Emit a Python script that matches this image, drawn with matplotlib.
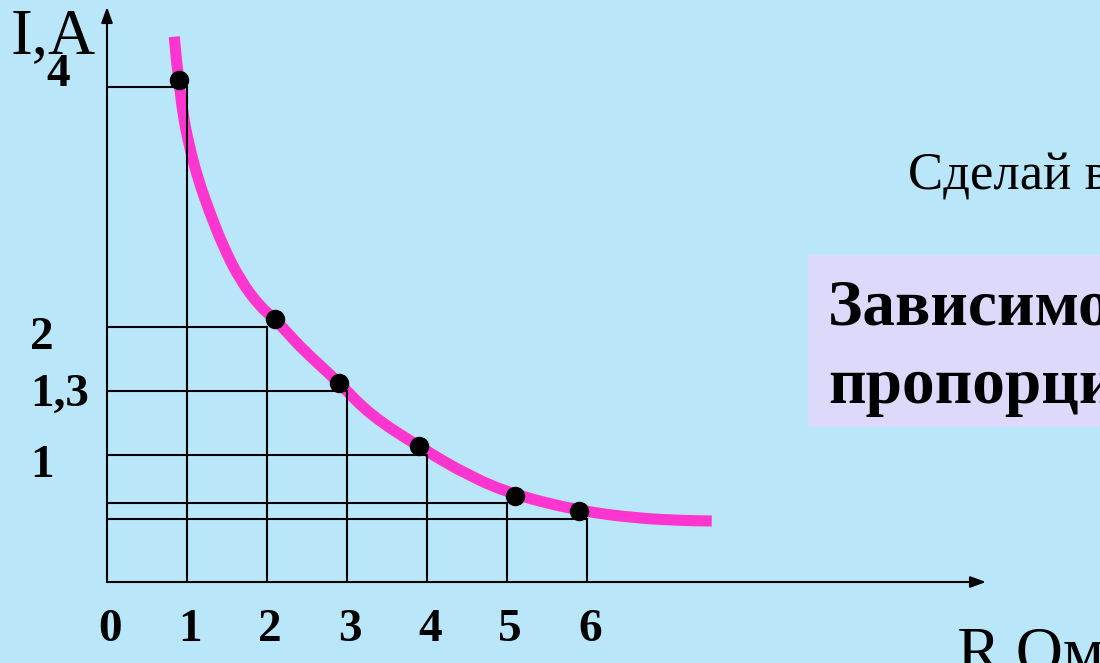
import numpy as np
import matplotlib
matplotlib.use("Agg")
import matplotlib.pyplot as plt
from matplotlib.patches import Rectangle, PathPatch
from matplotlib.path import Path

# resistance R (Ohm) and current I (A) for the step lines
R_vals = [1, 2, 3, 4, 5, 6]
I_vals = [4, 2, 1.3, 1, 0.8, 0.67]

# measured dots (slightly off the step corners in the picture)
dot_R = [0.9, 2.1, 2.9, 3.9, 5.1, 5.9]
dot_I = [4.06, 2.07, 1.39, 1.04, 0.83, 0.737]

# hand-drawn trend curve
curve_R = [0.841, 0.871, 0.9, 0.946, 1.029, 1.141, 1.288, 1.454, 1.663,
           1.913, 2.088, 2.263, 2.454, 2.9, 3.288, 3.9, 4.538, 5.1, 5.9,
           6.621, 7.246, 7.559]
curve_I = [4.419, 4.198, 4.058, 3.781, 3.503, 3.225, 2.948, 2.669, 2.392,
           2.169, 2.073, 1.93, 1.748, 1.391, 1.188, 1.039, 0.910, 0.833,
           0.737, 0.676, 0.652, 0.649]

x_ticks = [0, 1, 2, 3, 4, 5, 6]
y_tick_labels = ["4", "2", "1,3", "1"]

# the sketch is not to scale: piecewise axis mapping for I
scale_I = [0, 0.67, 0.8, 1, 1.3, 2, 4, 5]
scale_h = [0, 63, 79, 127, 191, 255, 495, 615]

W, H = 1100, 663
BG = "#b9e7f9"
SERIF = "Liberation Serif"


def forward(v):
    return np.interp(v, scale_I, scale_h)


def inverse(v):
    return np.interp(v, scale_h, scale_I)


def px(x, y):
    return x / W, 1 - y / H


def smooth_path(xs, ys):
    # quadratic bezier through midpoints, midpoints taken on the drawn scale
    pts = list(zip(xs, ys))
    mid = lambda a, b: ((a[0] + b[0]) / 2,
                        float(inverse((forward(a[1]) + forward(b[1])) / 2)))
    verts = [pts[0], mid(pts[0], pts[1])]
    codes = [Path.MOVETO, Path.LINETO]
    for k in range(1, len(pts) - 1):
        verts += [pts[k], mid(pts[k], pts[k + 1])]
        codes += [Path.CURVE3, Path.CURVE3]
    verts.append(pts[-1])
    codes.append(Path.LINETO)
    return Path(verts, codes)


fig = plt.figure(figsize=(11, 6.63), dpi=100, facecolor=BG)
ax = fig.add_axes([107 / W, 81 / H, (W - 107) / W, 582 / H])
ax.set_facecolor("none")
ax.set_yscale("function", functions=(forward, inverse))
ax.set_xlim(0, (W - 107) / 80)
ax.set_ylim(0, inverse(582))
ax.set_xticks([])
ax.set_yticks([])
for s in ax.spines.values():
    s.set_visible(False)

# trend curve
ax.add_patch(PathPatch(smooth_path(curve_R, curve_I), facecolor="none",
                       edgecolor="#ff35d0", lw=8, capstyle="butt",
                       joinstyle="round", zorder=2, clip_on=False))

# step lines from axes to each point
for r, i in zip(R_vals, I_vals):
    ax.plot([0, r], [i, i], color="black", lw=1.5, zorder=3)
    ax.plot([r, r], [0, i], color="black", lw=1.5, zorder=3)

ax.plot(dot_R, dot_I, "o", color="black", ms=13, zorder=4)

# axes with arrows
arrow = dict(arrowstyle="-|>,head_length=0.55,head_width=0.2", color="black",
             lw=1.5, mutation_scale=17, shrinkA=0, shrinkB=0)
ax.annotate("", xy=(0, 575 / 582), xytext=(0, 0), xycoords="axes fraction",
            arrowprops=arrow, annotation_clip=False)
ax.annotate("", xy=((986 - 107) / (W - 107), 0), xytext=(0, 0),
            xycoords="axes fraction", arrowprops=arrow, annotation_clip=False)

# tick labels
for r in x_ticks:
    ax.annotate(str(r), xy=(r, 0), xytext=(3, -59), textcoords="offset pixels",
                ha="center", va="baseline", fontsize=34, fontweight="bold",
                family=SERIF, annotation_clip=False)

y_offsets = [(-61, 1), (-77, -22), (-77, -15), (-77, -22)]
for lbl, lvl, (dx, dy) in zip(y_tick_labels, I_vals, y_offsets):
    ax.annotate(lbl, xy=(0, lvl), xytext=(dx, dy), textcoords="offset pixels",
                ha="left", va="baseline", fontsize=34, fontweight="bold",
                family=SERIF, annotation_clip=False)

# axis titles
fig.text(*px(11, 53), "I,A", fontsize=47, family=SERIF, va="baseline")
fig.text(*px(956, 671), "R,Ом", fontsize=47, family=SERIF, va="baseline")

# right-hand slide text
fig.text(*px(908, 190), "Сделай вывод:", fontsize=38, family=SERIF,
         va="baseline")
fig.patches.append(Rectangle(px(808, 427), (W - 808) / W, (427 - 255) / H,
                             transform=fig.transFigure, facecolor="#dcd9fa",
                             edgecolor="none", zorder=0))
fig.text(*px(828, 325), "Зависимость обратно", fontsize=47, family=SERIF,
         fontweight="bold", va="baseline")
fig.text(*px(828, 403), "пропорциональная", fontsize=47, family=SERIF,
         fontweight="bold", va="baseline")

fig.savefig("out.png", dpi=100, facecolor=BG)
